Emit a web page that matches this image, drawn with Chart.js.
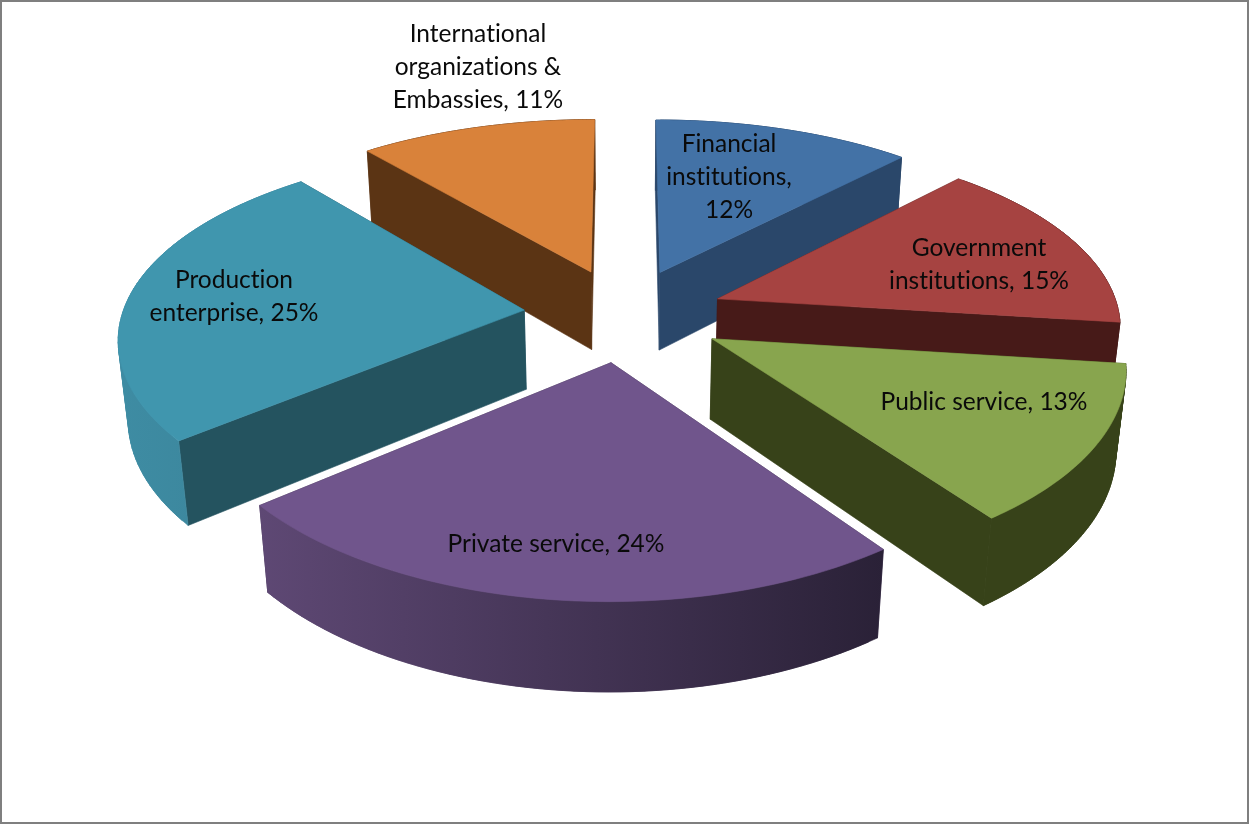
<!DOCTYPE html>
<html lang="en">
<head>
    <meta charset="UTF-8">
    <title>Employment sectors</title>
    <script src="https://cdn.jsdelivr.net/npm/chart.js"></script>
    <style>
        html, body { margin: 0; padding: 0; background: #fff; overflow: hidden; }
        canvas { display: block; }
    </style>
</head>
<body>
<canvas id="pie" width="1249" height="824"></canvas>

<script type='text/javascript'>
    const categories = ["Financial institutions", "Government institutions", "Public service",
                        "Private service", "Production enterprise", "International organizations & Embassies"];
    const values = [12, 15, 13, 24, 25, 11];

    // colours per slice: top face, cut faces, curved wall (left and right end of the wall)
    const topColors = ["#4372a6", "#a64341", "#88a54e", "#70558c", "#4096ae", "#d9823a"];
    const cutColors = ["#2a476a", "#471a18", "#374219", "#3a2c4c", "#24535f", "#5b3414"];
    const wallLeft  = ["#2a476a", "#471a18", "#374219", "#5e4874", "#3e8ca3", "#5b3414"];
    const wallRight = ["#2a476a", "#471a18", "#374219", "#2a2137", "#3a8298", "#5b3414"];

    // label placement: centre of the text block and wrap width
    const labelX = [729, 979, 984, 556, 234, 478];
    const labelY = [177, 265, 402, 544, 297, 67];
    const labelWrap = [150, 200, 400, 400, 190, 180];
    const lineHeight = 33;

    // camera for the tilted pie
    const cam = { cx: 624, cy: 314.5, ax: 402, by: 187, cz: 81, px: 0.13, py: 0.15, q: 0.02 };
    const explode = 0.25;

    function project(x, y, z) {
        var wx = 1 - cam.px * y + cam.q * z;
        var wy = 1 - cam.py * y + cam.q * z;
        return { x: cam.cx + cam.ax * x / wx, y: cam.cy + (cam.by * y + cam.cz * z) / wy };
    }

    function fillPoly(ctx, points, color) {
        ctx.beginPath();
        points.forEach(function (pt, i) {
            var s = project(pt[0], pt[1], pt[2]);
            if (i == 0) ctx.moveTo(s.x, s.y); else ctx.lineTo(s.x, s.y);
        });
        ctx.closePath();
        ctx.fillStyle = color;
        ctx.strokeStyle = color;
        ctx.lineWidth = 0.6;
        ctx.fill();
        ctx.stroke();
    }

    // one slice as a solid, built from the angles chart.js computed for its arc
    function drawSlice(ctx, arc, i) {
        var a0 = arc.startAngle + Math.PI / 2;
        var a1 = arc.endAngle + Math.PI / 2;
        var mid = (a0 + a1) / 2;
        var ox = explode * Math.sin(mid);
        var oy = -explode * Math.cos(mid);

        var rim = [];
        var steps = 60;
        for (var n = 0; n <= steps; n++) {
            var a = a0 + (a1 - a0) * n / steps;
            rim.push([ox + Math.sin(a), oy - Math.cos(a)]);
        }
        var first = rim[0], last = rim[steps];

        var wallTop = rim.map(function (r) { return [r[0], r[1], 0]; });

        // gradient over the horizontal extent of the wall
        var xs = wallTop.map(function (pt) { return project(pt[0], pt[1], 0).x; });
        var wallFill = ctx.createLinearGradient(Math.min.apply(null, xs), 0, Math.max.apply(null, xs), 0);
        wallFill.addColorStop(0, wallLeft[i]);
        wallFill.addColorStop(1, wallRight[i]);

        var faces = [
            { pts: [[ox, oy, 0], [first[0], first[1], 0], [first[0], first[1], 1], [ox, oy, 1]], color: cutColors[i] },
            { pts: [[ox, oy, 0], [last[0], last[1], 0], [last[0], last[1], 1], [ox, oy, 1]], color: cutColors[i] }
        ];
        // the curved wall goes in as small quads that overlap, a single outline
        // would fold over itself and butted quads leave seams
        for (var k = 0; k < steps; k++) {
            var r0 = rim[k], r1 = rim[Math.min(k + 2, steps)];
            faces.push({ pts: [[r0[0], r0[1], 0], [r1[0], r1[1], 0], [r1[0], r1[1], 1], [r0[0], r0[1], 1]], color: wallFill });
        }
        faces.forEach(function (f) {
            f.depth = f.pts.reduce(function (sum, pt) { return sum + pt[1]; }, 0) / f.pts.length;
        });
        faces.sort(function (a, b) { return a.depth - b.depth; });
        faces.forEach(function (f) { fillPoly(ctx, f.pts, f.color); });

        fillPoly(ctx, [[ox, oy, 0]].concat(wallTop), arc.options.backgroundColor);
    }

    function wrapLabel(ctx, text, maxWidth) {
        var lines = [];
        var line = "";
        text.split(" ").forEach(function (word) {
            var tmp = line ? line + " " + word : word;
            if (ctx.measureText(tmp).width > maxWidth && line) {
                lines.push(line);
                line = word;
            } else {
                line = tmp;
            }
        });
        lines.push(line);
        return lines;
    }

    const pie3d = {
        id: 'pie3d',
        beforeDraw: function (chart) {
            var ctx = chart.ctx;
            ctx.fillStyle = "#ffffff";
            ctx.fillRect(0, 0, chart.width, chart.height);
            // frame around the chart
            ctx.fillStyle = "#7f7f7f";
            ctx.fillRect(0, 0, chart.width, 2);
            ctx.fillRect(0, 0, 2, chart.height);
            ctx.fillRect(chart.width - 2, 0, 2, chart.height);
            ctx.fillRect(0, chart.height - 2, chart.width, 2);
        },
        beforeDatasetsDraw: function (chart) {
            var ctx = chart.ctx;
            var arcs = chart.getDatasetMeta(0).data;
            // back slices first
            var order = arcs.map(function (arc, i) {
                var mid = (arc.startAngle + arc.endAngle) / 2 + Math.PI / 2;
                return { arc: arc, i: i, back: Math.cos(mid) };
            });
            order.sort(function (a, b) { return b.back - a.back; });
            order.forEach(function (o) { drawSlice(ctx, o.arc, o.i); });
            return false;
        },
        afterDraw: function (chart) {
            var ctx = chart.ctx;
            ctx.font = "24.5px Lato";
            ctx.textRendering = "optimizeSpeed"; // no ti ligatures
            ctx.fillStyle = "#0a0a0a";
            ctx.textAlign = "center";
            ctx.textBaseline = "middle";
            categories.forEach(function (name, i) {
                var lines = wrapLabel(ctx, name + ", " + values[i] + "%", labelWrap[i]);
                var top = labelY[i] - (lines.length - 1) * lineHeight / 2;
                lines.forEach(function (text, n) {
                    ctx.fillText(text, labelX[i], top + n * lineHeight);
                });
            });
        }
    };

    new Chart(document.getElementById("pie"), {
        type: 'pie',
        data: {
            labels: categories,
            datasets: [{ data: values, backgroundColor: topColors, borderWidth: 0 }]
        },
        options: {
            responsive: false,
            animation: false,
            plugins: { legend: { display: false }, tooltip: { enabled: false } }
        },
        plugins: [pie3d]
    });
</script>
</body>
</html>
